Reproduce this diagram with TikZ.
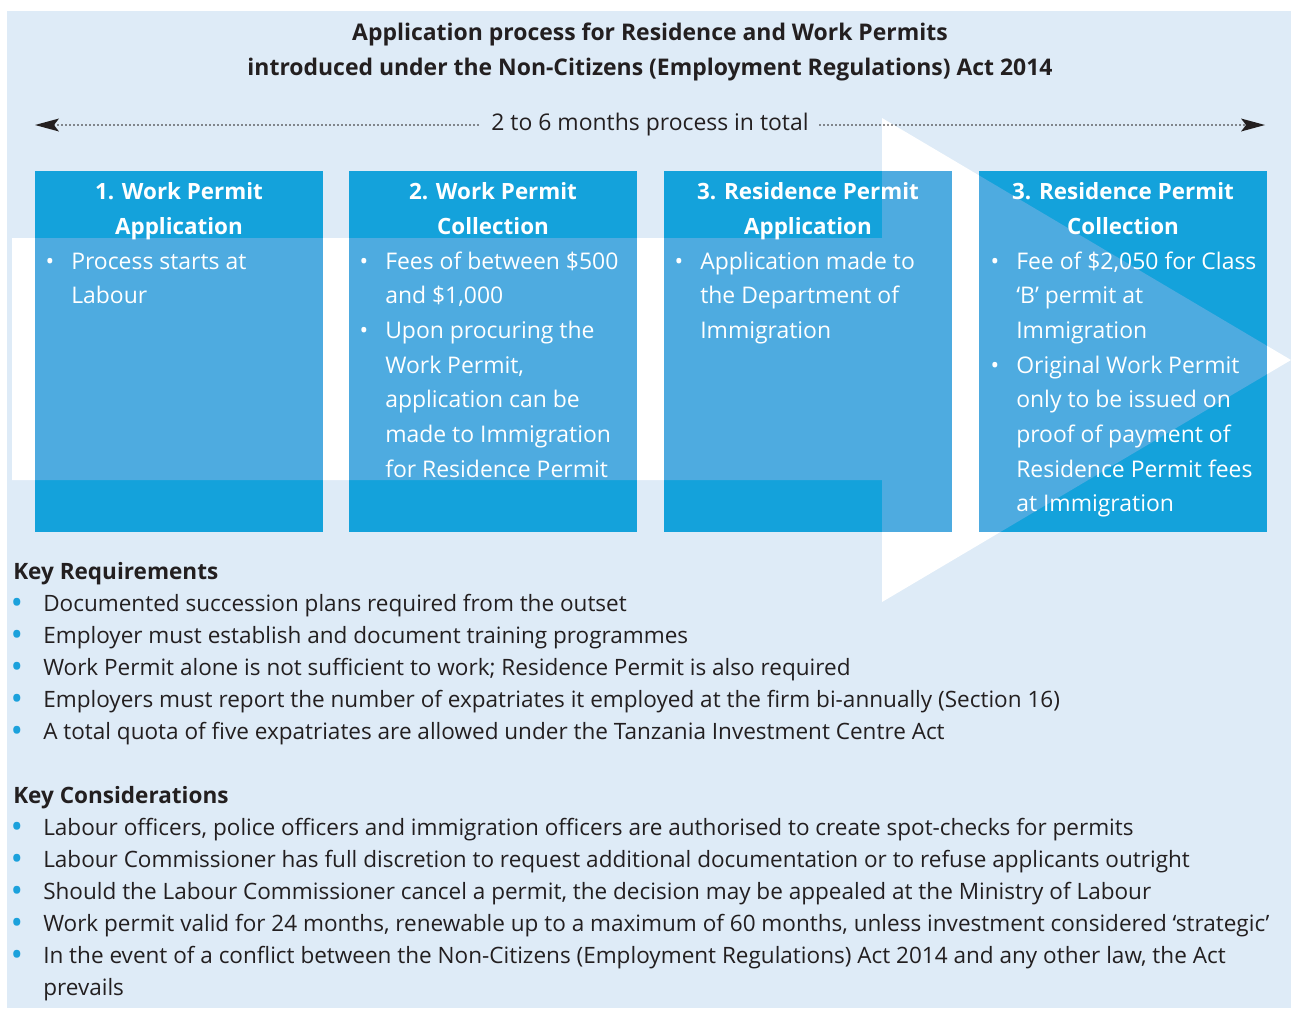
\documentclass[tikz,border=0pt]{standalone}
\usepackage{fontspec}
\setmainfont{Open Sans}
\usetikzlibrary{arrows.meta}
\definecolor{bgblue}{HTML}{DEEBF7}
\definecolor{boxdark}{HTML}{14A2DB}
\definecolor{boxlight}{HTML}{4EABE0}
\definecolor{ink}{HTML}{231F20}
\definecolor{dotblue}{HTML}{1BA1DC}
\begin{document}
\begin{tikzpicture}[x=0.75pt,y=-0.75pt,
  boxst/.style={anchor=north west,inner sep=0pt,outer sep=0pt,minimum width=216pt,minimum height=270.75pt,fill=boxdark},
  btitle/.style={anchor=base,inner sep=0pt,text=white,font=\fontsize{16.8}{19}\selectfont\bfseries},
  bline/.style={anchor=base west,inner sep=0pt,text=white,font=\fontsize{17.2}{19}\selectfont},
  bdot/.style={anchor=base,inner sep=0pt,text=white,font=\fontsize{17.2}{19}\selectfont},
  lline/.style={anchor=base west,inner sep=0pt,text=ink,font=\fontsize{16.9}{18}\selectfont},
  ldot/.style={anchor=base,inner sep=0pt,text=dotblue,font=\fontsize{19}{18}\selectfont\bfseries},
  lhead/.style={anchor=base west,inner sep=0pt,text=ink,font=\fontsize{16.9}{18}\selectfont\bfseries},
  dotline/.style={draw=ink,line width=1.4pt,line cap=round,dash pattern=on 0pt off 3pt}
]
\useasboundingbox (0,0) rectangle (1291,1008);
\fill[white] (0,0) rectangle (1291,1008);
\fill[bgblue] (7,11) rectangle (1291,1008);
\def\arrowpath{(12,238) -- (882,238) -- (882,118) -- (1291,360) -- (882,602) -- (882,480) -- (12,480) -- cycle}
\fill[white] \arrowpath;

% title
\node[anchor=base,inner sep=0pt,text=ink,font=\fontsize{17.2}{19}\selectfont\bfseries] (title1) at (650,40) {Application process for Residence and Work Permits};
\node[anchor=base,inner sep=0pt,text=ink,font=\fontsize{17.2}{19}\selectfont\bfseries] (title2) at (650,75) {introduced under the Non-Citizens (Employment Regulations) Act 2014};

% duration arrow
\node[anchor=base,inner sep=0pt,text=ink,font=\fontsize{17.2}{19}\selectfont] (dur) at (650,130) {2 to 6 months process in total};
\coordinate (lend) at (35,125);
\coordinate (rend) at (1265,125);
\coordinate (lstart) at (478,125);
\coordinate (rstart) at (820,125);
\draw[dotline] (lstart) -- ([xshift=14pt]lend);
\draw[dotline] (rstart) -- ([xshift=-14pt]rend);
\fill[ink] (lend) -- ++(24,-6.5) -- ++(-5,6.5) -- ++(5,6.5) -- cycle;
\fill[ink] (rend) -- ++(-24,-6.5) -- ++(5,6.5) -- ++(-5,6.5) -- cycle;

% boxes
\node[boxst] (b1) at (35,171) {};
\node[boxst] (b2) at (349,171) {};
\node[boxst] (b3) at (664,171) {};
\node[boxst] (b4) at (979,171) {};
\begin{scope}
\clip \arrowpath;
\foreach \b in {b1,b2,b3,b4} \fill[boxlight] (\b.north west) rectangle (\b.south east);
\end{scope}

% box titles
\node[btitle] (h1a) at (179,199) {1. Work Permit};
\node[btitle] (h1b) at (179,234) {Application};
\node[btitle] (h2a) at (493,199) {2. Work Permit};
\node[btitle] (h2b) at (493,234) {Collection};
\node[btitle] (h3a) at (808,199) {3. Residence Permit};
\node[btitle] (h3b) at (808,234) {Application};
\node[btitle] (h4a) at (1123,199) {3. Residence Permit};
\node[btitle] (h4b) at (1123,234) {Collection};

% box 1
\node[bdot] (d11) at (50,269) {•};
\node[bline] (l11) at (71,269) {Process starts at};
\node[bline] (l12) at (71,303.7) {Labour};
% box 2
\node[bdot] (d21) at (364,269) {•};
\node[bdot] (d22) at (364,338.4) {•};
\node[bline] (l21) at (385,269) {Fees of between \$500};
\node[bline] (l22) at (385,303.7) {and \$1,000};
\node[bline] (l23) at (385,338.4) {Upon procuring the};
\node[bline] (l24) at (385,373.1) {Work Permit,};
\node[bline] (l25) at (385,407.8) {application can be};
\node[bline] (l26) at (385,442.5) {made to Immigration};
\node[bline] (l27) at (385,477.2) {for Residence Permit};
% box 3
\node[bdot] (d31) at (679,269) {•};
\node[bline] (l31) at (700,269) {Application made to};
\node[bline] (l32) at (700,303.7) {the Department of};
\node[bline] (l33) at (700,338.4) {Immigration};
% box 4
\node[bdot] (d41) at (995,269) {•};
\node[bdot] (d42) at (995,373.1) {•};
\node[bline] (l41) at (1016,269) {Fee of \$2,050 for Class};
\node[bline] (l42) at (1016,303.7) {‘B’ permit at};
\node[bline] (l43) at (1016,338.4) {Immigration};
\node[bline] (l44) at (1016,373.1) {Original Work Permit};
\node[bline] (l45) at (1016,407.8) {only to be issued on};
\node[bline] (l46) at (1016,442.5) {proof of payment of};
\node[bline] (l47) at (1016,477.2) {Residence Permit fees};
\node[bline] (l48) at (1016,511.9) {at Immigration};

% key requirements
\node[lhead] (kr) at (13,579) {Key Requirements};
\foreach \t [count=\i] in {
  {Documented succession plans required from the outset},
  {Employer must establish and document training programmes},
  {Work Permit alone is not sufficient to work; Residence Permit is also required},
  {Employers must report the number of expatriates it employed at the firm bi-annually (Section 16)},
  {A total quota of five expatriates are allowed under the Tanzania Investment Centre Act}} {
  \node[ldot] (krd\i) at (17,{611+32*(\i-1)}) {•};
  \node[lline] (krt\i) at (43,{611+32*(\i-1)}) {\t};
}

% key considerations
\node[lhead] (kc) at (13,803) {Key Considerations};
\foreach \t [count=\i] in {
  {Labour officers, police officers and immigration officers are authorised to create spot-checks for permits},
  {Labour Commissioner has full discretion to request additional documentation or to refuse applicants outright},
  {Should the Labour Commissioner cancel a permit, the decision may be appealed at the Ministry of Labour},
  {Work permit valid for 24 months, renewable up to a maximum of 60 months, unless investment considered ‘strategic’},
  {In the event of a conflict between the Non-Citizens (Employment Regulations) Act 2014 and any other law, the Act}} {
  \node[ldot] (kcd\i) at (17,{835+32*(\i-1)}) {•};
  \node[lline] (kct\i) at (43,{835+32*(\i-1)}) {\t};
}
\node[lline] (kct6) at (43,995) {prevails};
\end{tikzpicture}
\end{document}
